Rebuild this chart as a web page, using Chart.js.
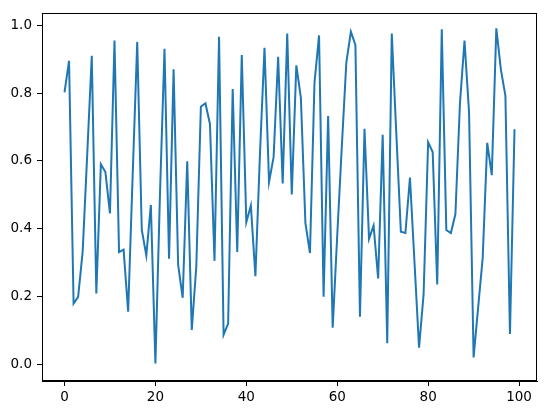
<!DOCTYPE html>
<html>
<head>
<meta charset="utf-8">
<script src="https://cdn.jsdelivr.net/npm/chart.js@4/dist/chart.umd.min.js"></script>
<style>
html,body{margin:0;padding:0;background:#fff;}
canvas{display:block;}
</style>
</head>
<body>
<canvas id="c" width="547" height="413"></canvas>
<script>
const values = [
  0.802, 0.895, 0.179, 0.199, 0.333, 0.62, 0.910, 0.209, 0.590, 0.567,
  0.445, 0.955, 0.331, 0.338, 0.155, 0.56, 0.951, 0.396, 0.321, 0.470,
  0.002, 0.50, 0.931, 0.311, 0.870, 0.294, 0.196, 0.599, 0.101, 0.29,
  0.760, 0.770, 0.709, 0.305, 0.966, 0.087, 0.120, 0.812, 0.331, 0.912,
  0.419, 0.468, 0.260, 0.62, 0.934, 0.538, 0.611, 0.907, 0.533, 0.976,
  0.501, 0.882, 0.787, 0.416, 0.328, 0.831, 0.970, 0.199, 0.732, 0.108,
  0.38, 0.64, 0.890, 0.981, 0.942, 0.140, 0.695, 0.370, 0.409, 0.253,
  0.677, 0.062, 0.976, 0.68, 0.391, 0.387, 0.551, 0.30, 0.049, 0.206,
  0.655, 0.626, 0.235, 0.988, 0.396, 0.387, 0.443, 0.77, 0.955, 0.743,
  0.020, 0.167, 0.313, 0.653, 0.558, 0.991, 0.870, 0.792, 0.089, 0.693
];
const xTicks = [0, 20, 40, 60, 80, 100];
const yTicks = [0.0, 0.2, 0.4, 0.6, 0.8, 1.0];

const points = values.map((v, i) => ({x: i, y: v}));

const frame = {
  id: 'frame',
  afterDraw(chart) {
    const a = chart.chartArea, ctx = chart.ctx;
    ctx.save();
    ctx.strokeStyle = '#000';
    ctx.lineWidth = 1;
    ctx.strokeRect(Math.round(a.left) + 0.5, Math.round(a.top) + 0.5,
                   Math.round(a.right - a.left) - 1, Math.round(a.bottom - a.top) - 1);
    ctx.restore();
  }
};

const tickFont = {family: 'DejaVu Sans', size: 13.5};

new Chart(document.getElementById('c'), {
  type: 'line',
  data: {
    datasets: [{
      data: points,
      borderColor: '#1f77b4',
      borderWidth: 2,
      pointRadius: 0,
      tension: 0,
      fill: false
    }]
  },
  options: {
    responsive: false,
    animation: false,
    devicePixelRatio: 1,
    layout: {padding: {top: 10, right: 10, left: 0, bottom: 0}},
    plugins: {legend: {display: false}, tooltip: {enabled: false}},
    scales: {
      x: {
        type: 'linear',
        min: -4.95,
        max: 103.95,
        afterBuildTicks: s => { s.ticks = xTicks.map(v => ({value: v})); },
        afterFit: s => { s.height = 32; },
        grid: {drawOnChartArea: false, drawTicks: true, tickLength: 5, color: '#000', lineWidth: 1},
        border: {display: true, color: '#000', width: 1},
        ticks: {color: '#000', font: tickFont, padding: 3, maxRotation: 0, autoSkip: false,
                callback: v => String(v)}
      },
      y: {
        type: 'linear',
        min: -0.0495,
        max: 1.036,
        afterBuildTicks: s => { s.ticks = yTicks.map(v => ({value: v})); },
        afterFit: s => { s.width = 42; },
        grid: {drawOnChartArea: false, drawTicks: true, tickLength: 5, color: '#000', lineWidth: 1},
        border: {display: true, color: '#000', width: 1},
        ticks: {color: '#000', font: tickFont, padding: 5, autoSkip: false,
                callback: v => Number(v).toFixed(1)}
      }
    }
  },
  plugins: [frame]
});
</script>
</body>
</html>
